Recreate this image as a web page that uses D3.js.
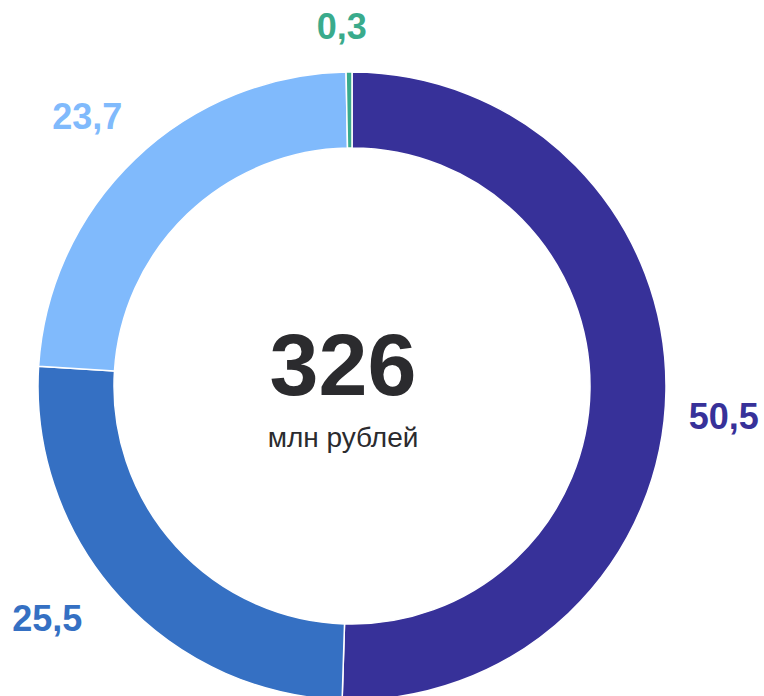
<!DOCTYPE html>
<html>
<head>
<meta charset="utf-8">
<script src="https://cdn.jsdelivr.net/npm/d3@7"></script>
<style>
  html, body { margin: 0; padding: 0; background: #fff; }
  svg { display: block; font-family: "Liberation Sans", Arial, sans-serif; }
</style>
</head>
<body>
<svg id="chart" width="764" height="696"></svg>
<script>
/////// Data ///////

var shares = [50.5, 25.5, 23.7, 0.3];
var shareLabels = ["50,5", "25,5", "23,7", "0,3"];
var sliceColors = ["#373199", "#3570c3", "#80bafc", "#3aab8c"];
var totalValue = "326";
var totalUnit = "млн рублей";

/////// Layout ///////

var svg = d3.select("#chart"),
    cx = 352, cy = 386,
    outerR = 314, innerR = 238,
    textDx = -9;

// label placement: angle shift (deg) and radius, one per slice
var labelShift = [3.7, 5, -0.7, -1.1],
    labelRadius = [373, 383, 378, 360];

var pie = d3.pie().sort(null).value(function(d) { return d; });
var arcs = pie(shares);

var arc = d3.arc().innerRadius(innerR).outerRadius(outerR);

var g = svg.append("g").attr("transform", "translate(" + cx + "," + cy + ")");

g.selectAll("path.slice")
    .data(arcs)
    .enter().append("path")
    .attr("class", "slice")
    .attr("d", arc)
    .attr("fill", function(d, i) { return sliceColors[i]; })
    .attr("stroke", "#fff")
    .attr("stroke-width", 1.5);

function labelAngle(d, i) {
    return (d.startAngle + d.endAngle) / 2 + labelShift[i] * Math.PI / 180;
}

g.selectAll("text.lbl")
    .data(arcs)
    .enter().append("text")
    .attr("class", "lbl")
    .attr("x", function(d, i) { return labelRadius[i] * Math.sin(labelAngle(d, i)); })
    .attr("y", function(d, i) { return -labelRadius[i] * Math.cos(labelAngle(d, i)); })
    .attr("dy", "0.36em")
    .attr("text-anchor", "middle")
    .attr("font-size", "36px")
    .attr("font-weight", "bold")
    .attr("fill", function(d, i) { return sliceColors[i]; })
    .text(function(d, i) { return shareLabels[i]; });

// centre text
g.append("text")
    .attr("x", textDx)
    .attr("y", 9)
    .attr("text-anchor", "middle")
    .attr("font-size", "88px")
    .attr("font-weight", "bold")
    .attr("fill", "#2b2b2e")
    .text(totalValue);

g.append("text")
    .attr("x", textDx)
    .attr("y", 61)
    .attr("text-anchor", "middle")
    .attr("font-size", "28px")
    .attr("fill", "#2b2b2e")
    .text(totalUnit);
</script>
</body>
</html>
